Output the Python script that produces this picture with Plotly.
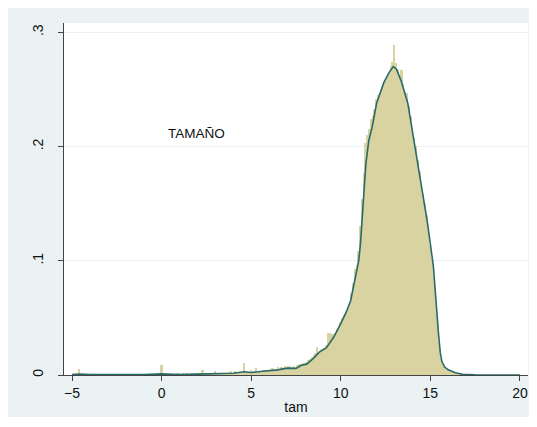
import numpy as np
import plotly.graph_objects as go

# Histogram (density), bins of width 0.1
bin_width = 0.1
left_centers = [-4.6]
left_vals = [0.005]
main_start = 0.0
main_vals = [
    0.009, 0.0008, 0.0005, 0.0006, 0.0004, 0.0007, 0.0005, 0.0008, 0.0006, 0.0009,
    0.0012, 0.0007, 0.0009, 0.0006, 0.0011, 0.0008, 0.0007, 0.0013, 0.0009, 0.0008,
    0.001, 0.0009, 0.0012, 0.0045, 0.0011, 0.0013, 0.0009, 0.0014, 0.0012, 0.0016,
    0.0038, 0.0014, 0.0012, 0.0017, 0.0015, 0.0019, 0.0016, 0.002, 0.0024, 0.0035,
    0.0018, 0.0032, 0.0022, 0.0026, 0.002, 0.0028, 0.0105, 0.0035, 0.0025, 0.003,
    0.0045, 0.0028, 0.0035, 0.006, 0.0032, 0.0038, 0.0036, 0.0042, 0.0035, 0.0048,
    0.004, 0.0052, 0.0062, 0.0045, 0.0055, 0.0068, 0.005, 0.0072, 0.0058, 0.0078,
    0.0065, 0.0082, 0.0068, 0.006, 0.0075, 0.0062, 0.0088, 0.0098, 0.0092, 0.0108,
    0.0102, 0.0118, 0.0128, 0.0142, 0.0155, 0.0172, 0.0195, 0.0245, 0.0205, 0.0218,
    0.0225, 0.0238, 0.0262, 0.0365, 0.0368, 0.0362, 0.0355, 0.0372, 0.0402, 0.0425,
    0.0468, 0.0495, 0.0525, 0.0548, 0.0565, 0.0625, 0.0715, 0.0808, 0.0925, 0.0965,
    0.1085, 0.1305, 0.1545, 0.1765, 0.2035, 0.2105, 0.2155, 0.2242, 0.2265, 0.2325,
    0.2418, 0.2452, 0.2465, 0.2505, 0.2535, 0.2578, 0.2605, 0.2648, 0.2702, 0.2742,
    0.2888, 0.2735, 0.2682, 0.2628, 0.2672, 0.2545, 0.2478, 0.2465, 0.2355, 0.2272,
    0.2155, 0.2072, 0.2008, 0.1885, 0.1785, 0.1672, 0.1585, 0.1495, 0.1398, 0.1285,
    0.1142, 0.1015, 0.0862, 0.0655, 0.0448, 0.0285, 0.0152, 0.0095, 0.0068, 0.0052,
    0.0045, 0.0038, 0.0032, 0.0026, 0.0021, 0.0016, 0.0012, 0.001, 0.0008, 0.0006,
    0.0005,
]
main_centers = list(main_start + bin_width * np.arange(len(main_vals)))

# Kernel density curve
kde_x = [-5.0, -4.6, -4.0, -1.0, 0.0, 1.0, 2.0, 3.0, 4.0, 4.6, 5.0, 5.5, 6.0, 6.5,
         7.0, 7.5, 7.8, 8.1, 8.5, 8.8, 9.2, 9.6, 10.0, 10.3, 10.55, 10.8, 11.0,
         11.1, 11.25, 11.4, 11.56, 11.75, 12.0, 12.4, 12.7, 12.93, 13.1, 13.36,
         13.74, 14.12, 14.6, 14.84, 15.17, 15.45, 15.55, 15.64, 15.8, 16.0, 16.4,
         16.8, 17.5, 20.0]
kde_y = [0.0003, 0.0008, 0.0003, 0.0003, 0.001, 0.0005, 0.0008, 0.001, 0.0015,
         0.0028, 0.0022, 0.003, 0.0035, 0.0045, 0.006, 0.0058, 0.0085, 0.0095,
         0.015, 0.02, 0.024, 0.033, 0.045, 0.055, 0.065, 0.083, 0.1, 0.115, 0.15,
         0.185, 0.205, 0.217, 0.238, 0.256, 0.265, 0.27, 0.268, 0.258, 0.238, 0.2,
         0.156, 0.133, 0.095, 0.037, 0.02, 0.012, 0.007, 0.0045, 0.002, 0.0006,
         0.0002, 0.0]

x_ticks = [-5, 0, 5, 10, 15, 20]
y_ticks = [0, 0.1, 0.2, 0.3]
y_tick_labels = ["0", ".1", ".2", ".3"]

fill_color = "#d8d3a0"
line_color = "#2a6a6a"
font_family = "Liberation Sans, Arial, sans-serif"

fig = go.Figure()
fig.add_trace(go.Bar(
    x=left_centers + main_centers, y=left_vals + main_vals, width=bin_width,
    marker=dict(color=fill_color, line=dict(width=0)), showlegend=False,
))
fig.add_trace(go.Scatter(
    x=kde_x, y=kde_y, mode="lines",
    line=dict(color=line_color, width=1.6), showlegend=False,
))

fig.add_annotation(x=1.93, y=0.2117, text="TAMAÑO", showarrow=False,
                   font=dict(family=font_family, size=13.5, color="#111111"))

fig.update_layout(
    width=521, height=409,
    margin=dict(l=56, r=1, t=15, b=42),
    paper_bgcolor="#eaf2f3", plot_bgcolor="white",
    bargap=0,
    font=dict(family=font_family, size=14, color="#111111"),
    xaxis=dict(range=[-5.45, 20.45], tickvals=x_ticks, ticks="outside",
               ticklen=5, tickcolor="#444444", showline=True, linecolor="#444444",
               linewidth=1, showgrid=False, zeroline=False,
               ticklabeloverflow="allow",
               title=dict(text="tam", standoff=2, font=dict(size=14))),
    yaxis=dict(range=[0, 0.3082], tickvals=y_ticks, ticktext=y_tick_labels,
               tickangle=-90, ticks="outside", ticklen=5, tickcolor="#444444",
               ticklabelstandoff=9,
               showline=True, linecolor="#444444", linewidth=1,
               showgrid=True, gridcolor="#eaf2f3", gridwidth=1, zeroline=False),
)

fig.write_html("out.html")
